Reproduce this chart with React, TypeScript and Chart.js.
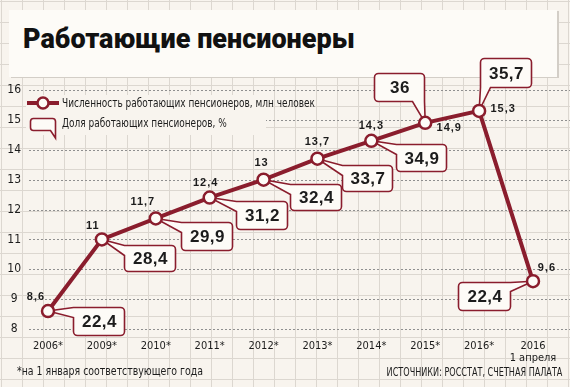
import React, { useEffect, useRef } from 'react';
import { Chart, registerables } from 'chart.js';

Chart.register(...registerables);

// ---------- data ----------
const yearLabels = ['2006*', '2009*', '2010*', '2011*', '2012*', '2013*', '2014*', '2015*', '2016*', '2016'];
const lastLabelNote = '1 апреля';
const workersMln = [8.6, 11, 11.7, 12.4, 13, 13.7, 14.3, 14.9, 15.3, 9.6];
const sharePct = [22.4, 28.4, 29.9, 31.2, 32.4, 33.7, 34.9, 36, 35.7, 22.4];
const yMin = 8;
const yMax = 16;

const titleText = 'Работающие пенсионеры';
const legendLine = 'Численность работающих пенсионеров, млн человек';
const legendShare = 'Доля работающих пенсионеров, %';
const footnote = '*на 1 января соответствующего года';
const sourceText = 'ИСТОЧНИКИ: РОССТАТ, СЧЕТНАЯ ПАЛАТА';

// ---------- styles ----------
const RED = '#8a1d2d';
const BG = '#f8f4ee';
const PANEL = '#fdfbf7';
const GRIDPAPER = '#dcd7d0';
const TEXT = '#1c1c1c';
const NARROW = "'Liberation Sans Narrow', 'DejaVu Sans Condensed', 'Roboto Condensed', Roboto, sans-serif";
const BOLD = "'Liberation Sans', Arial, sans-serif";

type Side = 'left' | 'right' | 'top' | 'bottom';
// callout box placement relative to its point (pixels)
const calloutLayout: { dx: number; dy: number; w: number; h: number; side: Side; a: number; b: number }[] = [
  { dx: 25, dy: -4, w: 51, h: 28, side: 'left', a: 0, b: 10 },
  { dx: 22, dy: 6, w: 51, h: 26, side: 'left', a: 0, b: 10 },
  { dx: 25, dy: 4, w: 51, h: 28, side: 'left', a: 0, b: 10 },
  { dx: 26, dy: 3, w: 51, h: 28, side: 'left', a: 0, b: 10 },
  { dx: 26, dy: 4, w: 51, h: 26, side: 'left', a: 0, b: 10 },
  { dx: 25, dy: 6, w: 50, h: 26, side: 'left', a: 0, b: 10 },
  { dx: 25, dy: 3, w: 50, h: 27, side: 'left', a: 0, b: 10 },
  { dx: -51, dy: -50, w: 50, h: 28, side: 'bottom', a: 38, b: 50 },
  { dx: 1, dy: -53, w: 51, h: 29, side: 'bottom', a: 0, b: 10 },
  { dx: -75, dy: 1, w: 52, h: 28, side: 'right', a: 0, b: 9 },
];
// value label centre offsets relative to point
const valueLabelOffsets = [
  [-12, -14], [-9, -13], [-13, -16], [-4, -15], [-2, -17],
  [0, -17], [0, -15], [24, 5], [24, -2], [14, -13],
];

const fmt = (v: number) => String(v).replace('.', ',');

function calloutPath(
  ctx: CanvasRenderingContext2D, x: number, y: number, w: number, h: number, r: number,
  side: Side, a: number, b: number, ax: number, ay: number,
) {
  let tl = r, tr = r, br = r, bl = r;
  if (side === 'left') { if (a === 0) tl = 0; if (b === h) bl = 0; }
  if (side === 'right') { if (a === 0) tr = 0; if (b === h) br = 0; }
  if (side === 'top') { if (a === 0) tl = 0; if (b === w) tr = 0; }
  if (side === 'bottom') { if (a === 0) bl = 0; if (b === w) br = 0; }
  ctx.beginPath();
  ctx.moveTo(x + tl, y);
  if (side === 'top') { ctx.lineTo(x + a, y); ctx.lineTo(ax, ay); ctx.lineTo(x + b, y); }
  ctx.lineTo(x + w - tr, y);
  if (tr) ctx.arcTo(x + w, y, x + w, y + tr, tr);
  if (side === 'right') { ctx.lineTo(x + w, y + a); ctx.lineTo(ax, ay); ctx.lineTo(x + w, y + b); }
  ctx.lineTo(x + w, y + h - br);
  if (br) ctx.arcTo(x + w, y + h, x + w - br, y + h, br);
  if (side === 'bottom') { ctx.lineTo(x + b, y + h); ctx.lineTo(ax, ay); ctx.lineTo(x + a, y + h); }
  ctx.lineTo(x + bl, y + h);
  if (bl) ctx.arcTo(x, y + h, x, y + h - bl, bl);
  if (side === 'left') { ctx.lineTo(x, y + b); ctx.lineTo(ax, ay); ctx.lineTo(x, y + a); }
  ctx.lineTo(x, y + tl);
  if (tl) ctx.arcTo(x, y, x + tl, y, tl);
  ctx.closePath();
}

function narrowText(ctx: CanvasRenderingContext2D, text: string, x: number, y: number, sx: number) {
  ctx.save();
  ctx.translate(x, y);
  ctx.scale(sx, 1);
  ctx.fillText(text, 0, 0);
  ctx.restore();
}

const decor = {
  id: 'decor',
  beforeDatasetsDraw(chart: any) {
    const ctx: CanvasRenderingContext2D = chart.ctx;
    const ys = chart.scales.y;
    const W = chart.width;
    // dotted horizontal grid
    ctx.save();
    ctx.strokeStyle = '#8f8f8f';
    ctx.lineWidth = 1;
    ctx.setLineDash([2, 2]);
    for (let v = yMin; v <= yMax; v++) {
      const y = Math.round(ys.getPixelForValue(v)) + 0.5;
      ctx.beginPath();
      ctx.moveTo(29, y);
      ctx.lineTo(W, y);
      ctx.stroke();
    }
    ctx.restore();

    // legend background (hides dotted line behind legend)
    ctx.save();
    ctx.fillStyle = BG;
    ctx.fillRect(26, 95, 240, 40);
    ctx.restore();

    // callouts
    const meta = chart.getDatasetMeta(0);
    ctx.save();
    meta.data.forEach((pt: any, i: number) => {
      const L = calloutLayout[i];
      const x = Math.round(pt.x + L.dx) + 0.5;
      const y = Math.round(pt.y + L.dy) + 0.5;
      calloutPath(ctx, x, y, L.w, L.h, 4, L.side, L.a, L.b, pt.x, pt.y);
      ctx.fillStyle = PANEL;
      ctx.fill();
      ctx.lineWidth = 1.6;
      ctx.strokeStyle = RED;
      ctx.lineJoin = 'miter';
      ctx.stroke();
      ctx.fillStyle = TEXT;
      ctx.font = `bold 17px ${BOLD}`;
      (ctx as any).letterSpacing = '0.5px';
      ctx.textAlign = 'center';
      ctx.textBaseline = 'middle';
      ctx.fillText(fmt(sharePct[i]), x + L.w / 2 + 0.5, y + L.h / 2 + 1);
    });
    ctx.restore();
  },
  afterDatasetsDraw(chart: any) {
    const ctx: CanvasRenderingContext2D = chart.ctx;
    const meta = chart.getDatasetMeta(0);
    ctx.save();
    ctx.fillStyle = TEXT;
    ctx.font = `bold 11px ${BOLD}`;
    (ctx as any).letterSpacing = '1px';
    ctx.textAlign = 'center';
    ctx.textBaseline = 'middle';
    meta.data.forEach((pt: any, i: number) => {
      const [ox, oy] = valueLabelOffsets[i];
      ctx.fillText(fmt(workersMln[i]), pt.x + ox, pt.y + oy);
    });
    ctx.restore();

    // legend
    ctx.save();
    ctx.strokeStyle = RED;
    ctx.lineWidth = 4;
    ctx.beginPath();
    ctx.moveTo(27, 103);
    ctx.lineTo(59, 103);
    ctx.stroke();
    ctx.beginPath();
    ctx.arc(43, 103, 5.5, 0, Math.PI * 2);
    ctx.fillStyle = PANEL;
    ctx.fill();
    ctx.lineWidth = 2.5;
    ctx.stroke();
    calloutPath(ctx, 30.5, 118.5, 25, 12, 3, 'bottom', 20, 25, 55.5, 138);
    ctx.fillStyle = PANEL;
    ctx.fill();
    ctx.lineWidth = 1.6;
    ctx.stroke();
    ctx.fillStyle = TEXT;
    ctx.font = `12px ${NARROW}`;
    ctx.textAlign = 'left';
    ctx.textBaseline = 'middle';
    narrowText(ctx, legendLine, 62, 104, 0.83);
    narrowText(ctx, legendShare, 62, 124, 0.83);
    ctx.restore();
  },
};

export default function App() {
  const ref = useRef<HTMLCanvasElement>(null);
  useEffect(() => {
    document.body.style.margin = '0';
    const labels = yearLabels.map((l, i) => (i === yearLabels.length - 1 ? [l, lastLabelNote] : l));
    const chart = new Chart(ref.current as HTMLCanvasElement, {
      type: 'line',
      data: {
        labels,
        datasets: [
          {
            data: workersMln,
            borderColor: RED,
            borderWidth: 4,
            pointRadius: 6,
            pointBorderWidth: 2.5,
            pointBackgroundColor: PANEL,
            pointBorderColor: RED,
            tension: 0,
          },
        ],
      },
      options: {
        animation: false,
        responsive: false,
        maintainAspectRatio: false,
        layout: { padding: { left: 0, right: 37, top: 90, bottom: 0 } },
        plugins: { legend: { display: false }, tooltip: { enabled: false } },
        scales: {
          x: {
            type: 'category',
            offset: false,
            grid: { display: false, drawTicks: false },
            border: { display: false },
            ticks: {
              padding: 11,
              font: { family: NARROW, size: 11, lineHeight: 1.1 },
              color: TEXT,
              maxRotation: 0,
              autoSkip: false,
            },
            afterFit: (s: any) => { s.height = 58; },
          },
          y: {
            min: yMin,
            max: yMax,
            grid: { display: false, drawTicks: false },
            border: { display: false },
            ticks: {
              stepSize: 1,
              padding: 27,
              crossAlign: 'center',
              font: { family: NARROW, size: 12 },
              color: TEXT,
            },
            afterFit: (s: any) => { s.width = 48; },
          },
        },
      } as any,
      plugins: [decor],
    });
    return () => chart.destroy();
  }, []);

  return (
    <div
      style={{
        position: 'relative',
        width: 570,
        height: 387,
        overflow: 'hidden',
        backgroundColor: BG,
        backgroundImage: `linear-gradient(to right, ${GRIDPAPER} 1px, transparent 1px), linear-gradient(to bottom, ${GRIDPAPER} 1px, transparent 1px)`,
        backgroundSize: '21px 21px',
        backgroundPosition: '1px 1px',
      }}
    >
      <div
        style={{
          position: 'absolute',
          left: 9,
          top: 10,
          width: 548,
          height: 67,
          background: PANEL,
          boxShadow: '2px 1px 0 #d3cec7',
        }}
      >
        <div
          style={{
            position: 'absolute',
            left: 14,
            top: 16,
            fontFamily: 'Roboto, sans-serif',
            fontWeight: 900,
            fontSize: 27,
            lineHeight: '27px',
            color: '#111',
            whiteSpace: 'nowrap',
          }}
        >
          {titleText}
        </div>
      </div>
      <canvas ref={ref} width={570} height={387} style={{ position: 'absolute', left: 0, top: 0, display: 'block' }} />
      <div
        style={{
          position: 'absolute',
          left: 17,
          top: 364,
          fontFamily: NARROW,
          fontSize: 12,
          lineHeight: '14px',
          color: TEXT,
          whiteSpace: 'nowrap',
          transform: 'scaleX(0.87)',
          transformOrigin: 'left center',
        }}
      >
        {footnote}
      </div>
      <div
        style={{
          position: 'absolute',
          right: 8,
          top: 365,
          fontFamily: NARROW,
          fontSize: 12,
          lineHeight: '14px',
          color: TEXT,
          whiteSpace: 'nowrap',
          transform: 'scaleX(0.75)',
          transformOrigin: 'right center',
        }}
      >
        {sourceText}
      </div>
    </div>
  );
}
